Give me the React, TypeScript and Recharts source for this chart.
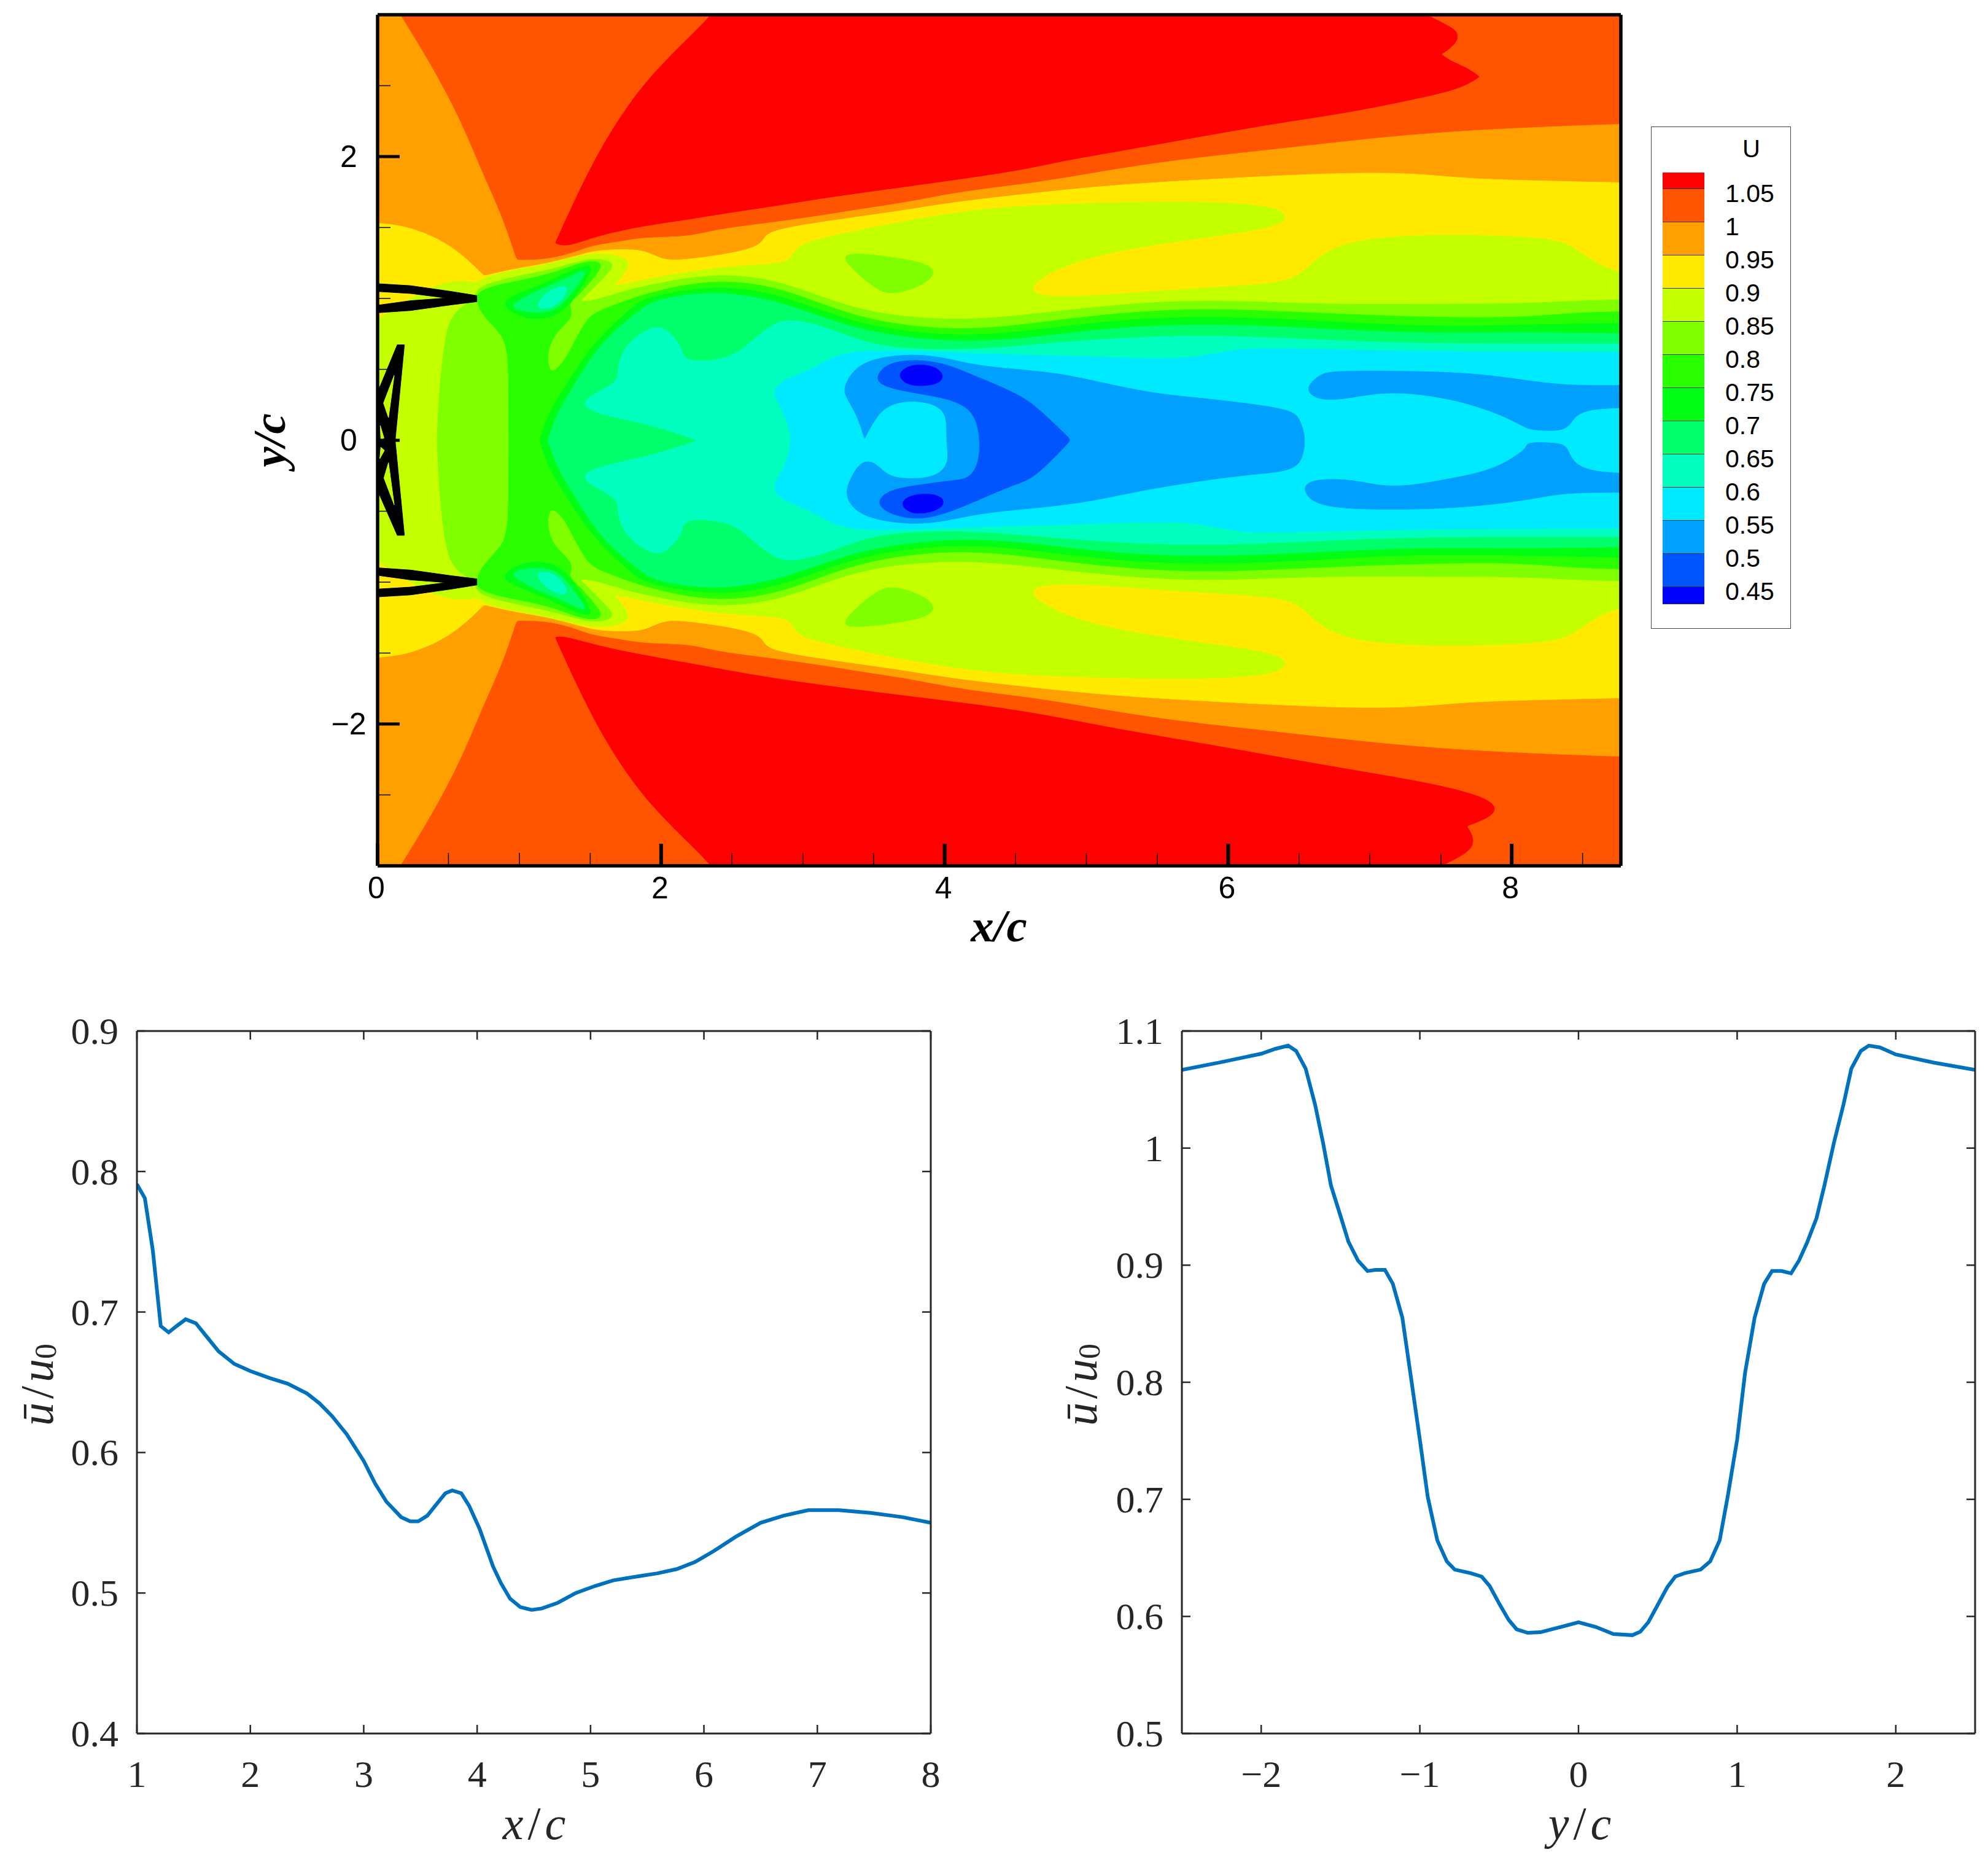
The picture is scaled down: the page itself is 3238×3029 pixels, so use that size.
import { Area, ComposedChart, Label, Line, LineChart, XAxis, YAxis } from 'recharts';

type Pt = [number, number];

// contour level colours, high to low (same order as the colorbar)
const bandColors = [
  '#ff0000', '#ff5500', '#ffa000', '#ffea00', '#c4ff00', '#7fff00', '#2aff00',
  '#00ff15', '#00ff6a', '#00ffbf', '#00eaff', '#00a0ff', '#0055ff', '#0000ff',
];
const legendLabels = ['1.05', '1', '0.95', '0.9', '0.85', '0.8', '0.75', '0.7', '0.65', '0.6', '0.55', '0.5', '0.45'];

const xTicksTop = [0, 0.5, 1, 1.5, 2, 2.5, 3, 3.5, 4, 4.5, 5, 5.5, 6, 6.5, 7, 7.5, 8, 8.5];
const yTicksTop = [-2.5, -2, -1.5, -1, -0.5, 0, 0.5, 1, 1.5, 2, 2.5];

// contour outlines, in x/c, y/c. Outlines run a little past
// the plot edge where a contour leaves it; the axes clip them.
const domainRect: Pt[] = [[0, 3], [8.77, 3], [8.77, -3], [0, -3]];

const redTop: Pt[] = [
  [2.5, 3.2], [2.365, 3], [2.137, 2.784], [1.893, 2.532], [1.711, 2.281], [1.559, 2.029], [1.422, 1.757], [1.315, 1.526],
  [1.254, 1.39], [1.254, 1.39], [1.315, 1.369], [1.406, 1.39], [1.589, 1.453], [1.893, 1.516], [2.198, 1.558], [2.502, 1.61],
  [2.807, 1.652], [3.111, 1.704], [3.415, 1.746], [3.72, 1.788], [4.024, 1.83], [4.536, 1.904], [4.81, 1.966],
  [5.17, 2.029], [5.528, 2.092], [5.995, 2.176], [6.426, 2.249], [6.857, 2.312], [7.323, 2.407], [7.647, 2.48],
  [7.773, 2.564], [7.773, 2.564], [7.683, 2.627], [7.575, 2.669], [7.503, 2.721], [7.503, 2.721], [7.611, 2.795], [7.629, 2.878], [7.539, 2.931],
  [7.0, 3.2],
];
const redBottom: Pt[] = [
  [2.5, -3.2], [2.365, -3], [2.137, -2.784], [1.893, -2.532], [1.711, -2.281], [1.559, -2.029], [1.422, -1.757], [1.315, -1.526],
  [1.254, -1.39], [1.254, -1.39], [1.315, -1.38], [1.55, -1.45], [1.893, -1.519], [2.35, -1.6], [2.807, -1.685], [3.72, -1.804],
  [4.536, -1.899], [5.17, -2.03], [5.887, -2.148], [6.6, -2.279], [7.323, -2.398], [7.7, -2.481], [7.891, -2.559],
  [7.88, -2.647], [7.683, -2.719], [7.683, -2.719], [7.773, -2.873], [7.5, -3], [7.1, -3.2],
];
const u100: Pt[] = [
  [-0.15, 3.5], [0.158, 3], [0.371, 2.658], [0.584, 2.26], [0.737, 1.883], [0.874, 1.589], [0.98, 1.27], [0.98, 1.27], [1.193, 1.27],
  [1.406, 1.327], [1.498, 1.369], [1.711, 1.4], [1.893, 1.432], [2.198, 1.432], [2.38, 1.484], [2.685, 1.522],
  [3.111, 1.579], [3.415, 1.631], [3.72, 1.673], [4.024, 1.736], [4.329, 1.778], [4.536, 1.803], [4.81, 1.841],
  [5.528, 1.966], [6.246, 2.04], [6.965, 2.124], [7.683, 2.187], [8.77, 2.23], [9.3, 2.24],
];
const u095: Pt[] = [
  [-0.5, 1.54], [0, 1.537], [0.219, 1.505], [0.432, 1.421], [0.584, 1.317], [0.676, 1.233], [0.752, 1.159], [0.752, 1.159], [0.98, 1.212],
  [1.193, 1.243], [1.467, 1.317], [1.559, 1.342], [1.833, 1.348], [1.924, 1.317], [2.03, 1.264], [2.198, 1.275],
  [2.502, 1.317], [2.7, 1.369], [2.73, 1.442], [2.807, 1.484], [3.111, 1.537], [3.72, 1.62], [4.024, 1.673],
  [4.536, 1.732], [5.17, 1.799], [5.887, 1.841], [6.785, 1.887], [7.323, 1.883], [7.683, 1.841], [8.33, 1.826],
  [8.77, 1.815], [9.3, 1.81],
];
const u090: Pt[] = [
  [-0.5, 0.7], [0, 0.84], [0.1, 0.92], [0.23, 1.0], [0.449, 1.114], [0.623, 1.128], [0.695, 1.1], [0.767, 1.157], [0.955, 1.2],
  [1.143, 1.23], [1.316, 1.273], [1.461, 1.309], [1.576, 1.316], [1.663, 1.309], [1.764, 1.273], [1.772, 1.237],
  [1.737, 1.172], [1.678, 1.1], [1.665, 1.086], [1.772, 1.107], [2.015, 1.159], [2.289, 1.201], [2.563, 1.233],
  [2.898, 1.243], [2.928, 1.317], [2.989, 1.39], [3.263, 1.453], [3.72, 1.547], [4.176, 1.62], [4.536, 1.652],
  [5.17, 1.677], [5.887, 1.683], [6.3, 1.652], [6.42, 1.589], [6.38, 1.526], [6.17, 1.474], [5.528, 1.39],
  [5.0, 1.296], [4.666, 1.149], [4.594, 1.055], [4.7, 1.013], [5.0, 1.013], [5.528, 1.055], [6.06, 1.086],
  [6.46, 1.117], [6.57, 1.233], [6.75, 1.38], [7.145, 1.442], [7.683, 1.449], [8.29, 1.428], [8.44, 1.358],
  [8.58, 1.254], [8.77, 1.17], [9.3, 1.05],
];
const u085: Pt[] = [
  [0.42, 0], [0.435, 0.363], [0.478, 0.753], [0.536, 0.912], [0.695, 1.0], [0.695, 1.07], [0.81, 1.114],
  [0.955, 1.15], [1.143, 1.186], [1.316, 1.23], [1.461, 1.273], [1.576, 1.28], [1.663, 1.251], [1.649, 1.2],
  [1.533, 1.085], [1.447, 0.998], [1.417, 0.977], [1.533, 0.984], [1.75, 1.056], [1.893, 1.088], [2.39, 1.187],
  [2.888, 1.121], [3.386, 0.897], [4.082, 0.836], [4.63, 0.889], [5.127, 0.947], [5.794, 0.997], [6.6, 0.956],
  [7.323, 0.96], [8.05, 0.96], [8.41, 0.981], [8.77, 0.992], [9.3, 0.995],
];
const u085Island: Pt[] = [
  [3.26, 1.31], [3.415, 1.32], [3.842, 1.263], [3.95, 1.191], [3.862, 1.097], [3.629, 1.02], [3.517, 1.065],
  [3.365, 1.191],
];
const u080: Pt[] = [
  [0.926, 0], [0.926, 0.363], [0.919, 0.652], [0.868, 0.753], [0.796, 0.825], [0.723, 0.912], [0.702, 0.984],
  [0.695, 1.04], [0.825, 1.092], [1.027, 1.129], [1.243, 1.179], [1.389, 1.237], [1.504, 1.266], [1.576, 1.251],
  [1.576, 1.208], [1.475, 1.085], [1.389, 0.998], [1.345, 0.955], [1.381, 0.883], [1.316, 0.81], [1.23, 0.724],
  [1.193, 0.594], [1.215, 0.471], [1.272, 0.507], [1.33, 0.579], [1.388, 0.695], [1.46, 0.825], [1.518, 0.897],
  [1.677, 0.955], [1.894, 1.038], [2.39, 1.146], [2.888, 1.071], [3.386, 0.847], [4.082, 0.764], [4.63, 0.823],
  [5.127, 0.889], [5.794, 0.935], [6.6, 0.897], [7.323, 0.868], [8.05, 0.86], [8.41, 0.897], [8.77, 0.908], [9.3, 0.91],
];
const u075Lobe: Pt[] = [
  [0.85, 0.97], [1.03, 1.05], [1.165, 1.1], [1.31, 1.17], [1.47, 1.24], [1.52, 1.22], [1.45, 1.1], [1.36, 0.96],
  [1.25, 0.87], [1.1, 0.85], [0.98, 0.88],
];
const u075: Pt[] = [
  [1.143, 0], [1.215, 0.218], [1.316, 0.363], [1.446, 0.579], [1.605, 0.767], [1.82, 0.96], [1.893, 1.005],
  [2.39, 1.105], [2.888, 1.02], [3.386, 0.805], [4.082, 0.723], [4.63, 0.773], [5.127, 0.84], [5.794, 0.88],
  [6.6, 0.845], [7.323, 0.8], [8.05, 0.81], [8.41, 0.82], [8.77, 0.824], [9.3, 0.83],
];
const u070Lobe: Pt[] = [
  [0.926, 0.941], [1.04, 1.013], [1.165, 1.071], [1.31, 1.129], [1.446, 1.2], [1.475, 1.186], [1.403, 1.085],
  [1.316, 0.97], [1.243, 0.912], [1.127, 0.897], [1.012, 0.912],
];
const u070: Pt[] = [
  [1.2, 0], [1.27, 0.2], [1.37, 0.36], [1.5, 0.58], [1.66, 0.77], [1.87, 0.93], [1.95, 0.99], [2.39, 1.063],
  [2.888, 0.972], [3.386, 0.764], [4.082, 0.682], [4.63, 0.723], [5.127, 0.789], [5.794, 0.824], [6.6, 0.79],
  [7.323, 0.752], [8.05, 0.761], [8.41, 0.755], [8.77, 0.752], [9.3, 0.75],
];
const u065Lobe: Pt[] = [[1.1, 0.935], [1.2, 1.06], [1.36, 1.11], [1.31, 0.985], [1.2, 0.92]];
const u065: Pt[] = [
  [2.259, 0], [1.893, 0.122], [1.589, 0.174], [1.376, 0.264], [1.711, 0.405], [1.686, 0.499], [1.741, 0.667],
  [1.893, 0.781], [1.993, 0.806], [2.067, 0.756], [2.154, 0.648], [2.154, 0.557], [2.366, 0.557], [2.54, 0.607],
  [2.664, 0.723], [2.813, 0.839], [2.938, 0.852], [3.136, 0.806], [3.385, 0.706], [3.634, 0.648], [4.131, 0.632],
  [4.63, 0.673], [5.127, 0.715], [5.794, 0.745], [6.6, 0.71], [7.323, 0.68], [8.05, 0.68], [8.77, 0.68], [9.3, 0.68],
];
const u060: Pt[] = [
  [2.913, 0], [2.9, 0.126], [2.819, 0.275], [2.789, 0.342], [2.851, 0.425], [3.062, 0.491], [3.262, 0.632],
  [3.685, 0.632], [4.131, 0.615], [4.45, 0.604], [4.99, 0.593], [5.7, 0.562], [6.0, 0.635], [6.25, 0.656],
  [6.965, 0.629], [8.77, 0.62], [9.3, 0.62],
];
const u055Body: Pt[] = [
  [3.286, 0.375], [3.361, 0.507], [3.51, 0.582], [3.783, 0.61], [4.007, 0.582], [4.256, 0.516], [4.778, 0.483],
  [5.127, 0.4], [5.5, 0.325], [5.794, 0.3], [6.437, 0.225], [6.505, 0.16], [6.545, 0.016], [6.535, -0.07],
  [6.496, -0.215], [6.18, -0.237], [5.79, -0.287], [5.376, -0.355], [5.0, -0.438], [4.63, -0.479], [4.256, -0.512],
  [4.007, -0.57], [3.783, -0.595], [3.51, -0.562], [3.361, -0.496], [3.286, -0.371], [3.361, -0.222], [3.41, -0.156],
  [3.484, -0.143], [3.559, -0.206], [3.634, -0.272], [3.883, -0.272], [3.983, -0.222], [4.033, -0.139], [4.01, 0],
  [4.02, 0.159], [3.957, 0.25], [3.784, 0.284], [3.61, 0.259], [3.51, 0.159], [3.435, 0.01], [3.435, 0.01], [3.385, 0.176],
  [3.3, 0.308],
];
const u055WakeTop: Pt[] = [
  [6.565, 0.391], [6.652, 0.471], [6.77, 0.492], [7.551, 0.485], [7.942, 0.449], [8.333, 0.384], [8.77, 0.387],
  [9.3, 0.39], [9.3, 0.233], [8.77, 0.233], [8.528, 0.218], [8.43, 0.16], [8.392, 0.059], [8.138, 0.074], [8.099, 0.088], [7.942, 0.175],
  [7.649, 0.276], [7.356, 0.326], [7.16, 0.337], [7.004, 0.326], [6.77, 0.283], [6.633, 0.29], [6.565, 0.334],
];
const u055WakeBottom: Pt[] = [
  [6.535, -0.273], [6.867, -0.273], [7.063, -0.324], [7.278, -0.324], [7.551, -0.273], [7.747, -0.237],
  [7.942, -0.172], [8.108, -0.056], [8.099, -0.027], [8.157, -0.013], [8.333, -0.02], [8.392, -0.042],
  [8.421, -0.143], [8.528, -0.215], [8.77, -0.237], [9.3, -0.24], [9.3, -0.367], [8.77, -0.367], [8.372, -0.367], [8.138, -0.417],
  [7.747, -0.468], [7.258, -0.492], [6.672, -0.482], [6.535, -0.388],
];
const u050Core: Pt[] = [
  [3.51, 0.441], [3.584, 0.541], [3.783, 0.574], [4.007, 0.541], [4.18, 0.466], [4.53, 0.325], [4.68, 0.209],
  [4.891, 0.002], [4.891, 0.002], [4.63, -0.272], [4.505, -0.305], [4.256, -0.413], [3.983, -0.529], [3.784, -0.562], [3.585, -0.512],
  [3.515, -0.43], [3.61, -0.347], [3.833, -0.313], [4.082, -0.28], [4.169, -0.272], [4.256, -0.156], [4.244, 0.143],
  [4.132, 0.259], [3.958, 0.308], [3.734, 0.342], [3.559, 0.383],
];
const u045Top: Pt[] = [
  [3.67, 0.46], [3.72, 0.515], [3.821, 0.54], [3.95, 0.515], [4.0, 0.449], [3.95, 0.392], [3.808, 0.38], [3.72, 0.4],
];
const u045Bottom: Pt[] = [
  [3.685, -0.446], [3.745, -0.39], [3.883, -0.372], [3.995, -0.4], [3.995, -0.475], [3.858, -0.52], [3.745, -0.512],
];

// black airfoil outlines
const foilUpper: Pt[] = [
  [0, 1.104], [0.233, 1.09], [0.52, 1.049], [0.7, 1.02], [0.7, 0.977], [0.52, 0.955], [0.233, 0.915], [0.016, 0.9],
  [0, 0.9], [0, 0.952], [0.233, 0.984], [0.486, 1.003], [0.233, 1.035], [0, 1.049],
];
const foilCentre: Pt[] = [
  [0.139, 0.673], [0.189, 0.673], [0.124, 0], [0.189, -0.67], [0.139, -0.67], [0.009, -0.374], [0, -0.374], [0, 0.374], [0.016, 0.377],
];
const foilGaps: Pt[][] = [
  [[0.117, 0.457], [0.042, 0.262], [0.077, 0.16]],
  [[0.117, -0.454], [0.045, -0.266], [0.077, -0.158]],
  [[0.019, 0.103], [0.045, 0.016], [0.023, 0.001]],
  [[0.023, -0.049], [0.048, -0.071], [0.016, -0.129]],
];

// centreline and cross-stream profiles
const centrelineX = [
  1, 1.07, 1.14, 1.21, 1.28, 1.35, 1.43, 1.52, 1.61, 1.72, 1.86, 2, 2.17, 2.33, 2.5, 2.61, 2.72, 2.85, 3, 3.1, 3.2,
  3.33, 3.41, 3.48, 3.56, 3.66, 3.72, 3.78, 3.86, 3.93, 4.02, 4.14, 4.21, 4.29, 4.38, 4.48, 4.57, 4.71, 4.87, 5.04,
  5.2, 5.43, 5.59, 5.76, 5.92, 6.09, 6.28, 6.5, 6.7, 6.92, 7.19, 7.47, 7.75, 8,
];
const centrelineU = [
  0.791, 0.781, 0.744, 0.69, 0.6855, 0.69, 0.6948, 0.692, 0.683, 0.672, 0.663, 0.658, 0.653, 0.649, 0.642, 0.635,
  0.626, 0.613, 0.594, 0.578, 0.565, 0.554, 0.551, 0.551, 0.555, 0.565, 0.571, 0.573, 0.571, 0.562, 0.546, 0.519,
  0.507, 0.496, 0.49, 0.488, 0.489, 0.493, 0.5, 0.505, 0.509, 0.512, 0.514, 0.517, 0.522, 0.53, 0.54, 0.55, 0.555,
  0.559, 0.559, 0.557, 0.554, 0.55,
];
const profileY = [
  -2.5, -2.26, -2, -1.91, -1.83, -1.78, -1.72, -1.66, -1.61, -1.56, -1.5, -1.45, -1.39, -1.33, -1.28, -1.22, -1.17,
  -1.11, -1.06, -1, -0.95, -0.89, -0.83, -0.78, -0.68, -0.61, -0.56, -0.5, -0.44, -0.39, -0.32, -0.24, -0.14, 0, 0.11,
  0.22, 0.34, 0.39, 0.44, 0.5, 0.56, 0.61, 0.67, 0.77, 0.83, 0.89, 0.94, 1, 1.05, 1.11, 1.17, 1.22, 1.28, 1.34, 1.39,
  1.44, 1.5, 1.55, 1.61, 1.67, 1.72, 1.78, 1.83, 1.9, 2, 2.24, 2.5,
];
const profileU = [
  1.0668, 1.0732, 1.0806, 1.0848, 1.0875, 1.083, 1.068, 1.037, 1.0045, 0.968, 0.942, 0.92, 0.904, 0.895, 0.896, 0.896,
  0.884, 0.855, 0.808, 0.751, 0.702, 0.665, 0.647, 0.64, 0.637, 0.634, 0.626, 0.611, 0.597, 0.589, 0.586, 0.5865, 0.59,
  0.595, 0.591, 0.585, 0.584, 0.587, 0.595, 0.61, 0.625, 0.634, 0.637, 0.64, 0.647, 0.665, 0.702, 0.751, 0.808, 0.855,
  0.884, 0.895, 0.895, 0.893, 0.904, 0.919, 0.94, 0.968, 1.0045, 1.037, 1.068, 1.083, 1.0875, 1.086, 1.08, 1.073, 1.0668,
];

const closed = (pts: Pt[]) => [...pts, pts[0]].map(([x, y]) => ({ x, y }));
const mirrored = (pts: Pt[]): Pt[] => pts.map(([x, y]) => [x, -y] as Pt);
// outline given for the upper half only, walked back along its mirror image
const bothHalves = (pts: Pt[]): Pt[] => [...pts, ...mirrored(pts).reverse()];

const [red, c100, c095, c090, c085, c080, c075, c070, c065, c060, c055, c050, c045, c040] = bandColors;

type Layer = { color: string; pts: Pt[]; sharp?: boolean };

const layers: Layer[] = [
  { color: c100, pts: domainRect, sharp: true },
  { color: red, pts: redTop },
  { color: red, pts: redBottom },
  { color: c095, pts: bothHalves(u100) },
  { color: c090, pts: bothHalves(u095) },
  { color: c085, pts: bothHalves(u090) },
  { color: c080, pts: bothHalves(u085) },
  { color: c080, pts: u085Island },
  { color: c080, pts: mirrored(u085Island) },
  { color: c075, pts: bothHalves(u080) },
  { color: c070, pts: u075Lobe },
  { color: c070, pts: mirrored(u075Lobe) },
  { color: c070, pts: bothHalves(u075) },
  { color: c065, pts: u070Lobe },
  { color: c065, pts: mirrored(u070Lobe) },
  { color: c065, pts: bothHalves(u070) },
  { color: c060, pts: u065Lobe },
  { color: c060, pts: mirrored(u065Lobe) },
  { color: c060, pts: bothHalves(u065) },
  { color: c055, pts: bothHalves(u060) },
  { color: c050, pts: u055Body },
  { color: c050, pts: u055WakeTop },
  { color: c050, pts: u055WakeBottom },
  { color: c045, pts: u050Core },
  { color: c040, pts: u045Top },
  { color: c040, pts: u045Bottom },
  { color: '#000000', pts: foilUpper, sharp: true },
  { color: '#000000', pts: mirrored(foilUpper), sharp: true },
  { color: '#000000', pts: foilCentre, sharp: true },
  ...foilGaps.map((pts) => ({ color: c085, pts, sharp: true })),
];

const SANS = '"Liberation Sans", Arial, sans-serif';
const SERIF = '"Liberation Serif", "Times New Roman", serif';
const INK = '#262626';

const topXTick = ({ x, y, payload }: any) => {
  const major = payload.value % 2 === 0;
  return (
    <g>
      <line x1={x} x2={x} y1={y} y2={y - (major ? 36 : 21)} stroke="#000" strokeWidth={major ? 6 : 1.5} />
      {major && (
        <text x={x - 2} y={y + 36} textAnchor="middle" dominantBaseline="central" fontFamily={SANS} fontSize={50} fill="#000">
          {payload.value}
        </text>
      )}
    </g>
  );
};

const topYTick = ({ x, y, payload }: any) => {
  const major = payload.value % 2 === 0;
  return (
    <g>
      <line x1={x} x2={x + (major ? 36 : 21)} y1={y} y2={y} stroke="#000" strokeWidth={major ? 5 : 1.5} />
      {major && (
        <text x={568} y={y} textAnchor="middle" dominantBaseline="central" fontFamily={SANS} fontSize={50} fill="#000">
          {String(payload.value).replace('-', '\u2212')}
        </text>
      )}
    </g>
  );
};

const matlabTick = (side: 'bottom' | 'top' | 'left' | 'right') => ({ x, y, payload }: any) => {
  const label = String(payload.value).replace('-', '\u2212');
  const len = 14;
  const dx = side === 'left' ? len : side === 'right' ? -len : 0;
  const dy = side === 'bottom' ? -len : side === 'top' ? len : 0;
  return (
    <g>
      <line x1={x} y1={y} x2={x + dx} y2={y + dy} stroke={INK} strokeWidth={2.5} />
      {side === 'bottom' && (
        <text x={x} y={y + 66} textAnchor="middle" dominantBaseline="central" fontFamily={SERIF} fontSize={62} fill={INK}>
          {label}
        </text>
      )}
      {side === 'left' && (
        <text x={x - 30} y={y} textAnchor="end" dominantBaseline="central" fontFamily={SERIF} fontSize={62} fill={INK}>
          {label}
        </text>
      )}
    </g>
  );
};

function ColorBar() {
  const rows = bandColors.map((color, i) => {
    const top = i === 0 ? 281 : 308 + (i - 1) * 54;
    const bottom = i === bandColors.length - 1 ? 984 : 308 + i * 54;
    return { color, top, bottom };
  });
  return (
    <div style={{ position: 'absolute', left: 0, top: 0, fontFamily: SANS, color: '#000' }}>
      <div style={{ position: 'absolute', left: 2689, top: 206, width: 226, height: 816, border: '1.5px solid #444', background: '#fff' }} />
      <div style={{ position: 'absolute', left: 2838, top: 218, fontSize: 40, lineHeight: '48px' }}>U</div>
      {rows.map((r) => (
        <div
          key={r.color}
          style={{
            position: 'absolute', left: 2708, top: r.top, width: 68, height: r.bottom - r.top,
            background: r.color, borderBottom: '1.5px solid #333', boxSizing: 'border-box',
          }}
        />
      ))}
      {legendLabels.map((text, i) => (
        <div key={text} style={{ position: 'absolute', left: 2810, top: 293 + i * 54, fontSize: 41, lineHeight: '44px' }}>
          {text}
        </div>
      ))}
    </div>
  );
}

function ContourPanel() {
  const frame = { stroke: '#000', strokeWidth: 5.5 };
  return (
    <div style={{ position: 'absolute', left: 0, top: 0 }}>
      <ComposedChart width={2660} height={1560} margin={{ top: 23, right: 19, bottom: 0, left: 0 }}>
        {layers.map((layer, i) => (
          <Area
            key={i}
            data={layer.sharp ? closed(layer.pts) : layer.pts.map(([x, y]) => ({ x, y }))}
            dataKey="y"
            type={layer.sharp ? 'linear' : 'basisClosed'}
            baseValue={0}
            fill={layer.color}
            fillOpacity={1}
            stroke={layer.color}
            strokeWidth={1}
            dot={false}
            activeDot={false}
            isAnimationActive={false}
          />
        ))}
        <XAxis
          dataKey="x"
          type="number"
          domain={[0, 8.77]}
          allowDataOverflow
          ticks={xTicksTop}
          interval={0}
          height={150}
          tickSize={0}
          tickMargin={0}
          tickLine={false}
          tick={topXTick}
          axisLine={frame}
        >
          <Label
            content={() => (
              <text x={1627} y={1507} textAnchor="middle" dominantBaseline="central" fontFamily={SERIF} fontStyle="italic" fontWeight="bold" fontSize={75} fill="#000">
                x/c
              </text>
            )}
          />
        </XAxis>
        <XAxis xAxisId="frame" dataKey="x" orientation="top" type="number" domain={[0, 8.77]} allowDataOverflow height={1} tick={false} tickLine={false} axisLine={frame} />
        <YAxis
          type="number"
          domain={[-3, 3]}
          allowDataOverflow
          ticks={yTicksTop}
          interval={0}
          width={615}
          tickSize={0}
          tickMargin={0}
          tickLine={false}
          tick={topYTick}
          axisLine={frame}
        >
          <Label
            content={() => (
              <text x={438} y={717} transform="rotate(-90 438 717)" textAnchor="middle" dominantBaseline="central" fontFamily={SERIF} fontStyle="italic" fontWeight="bold" fontSize={75} fill="#000">
                y/c
              </text>
            )}
          />
        </YAxis>
        <YAxis yAxisId="frame" orientation="right" type="number" domain={[-3, 3]} allowDataOverflow width={1} tick={false} tickLine={false} axisLine={frame} />
      </ComposedChart>
    </div>
  );
}

type ProfileProps = {
  left: number;
  width: number;
  yAxisWidth: number;
  xs: number[];
  us: number[];
  xDomain: [number, number];
  yDomain: [number, number];
  xTicks: number[];
  yTicks: number[];
  xName: string;
  xLabelAt: number;
  yLabelAt: number;
};

function ProfilePanel({ left, width, yAxisWidth, xs, us, xDomain, yDomain, xTicks, yTicks, xName, xLabelAt, yLabelAt }: ProfileProps) {
  const data = xs.map((x, i) => ({ x, u: us[i] }));
  const axisLine = { stroke: INK, strokeWidth: 3 };
  return (
    <div style={{ position: 'absolute', left, top: 1600 }}>
      <LineChart width={width} height={1429} data={data} margin={{ top: 78, right: 20, bottom: 0, left: 0 }}>
        <XAxis dataKey="x" type="number" domain={xDomain} allowDataOverflow ticks={xTicks} interval={0} height={206} tickSize={0} tickMargin={0} tickLine={false} tick={matlabTick('bottom')} axisLine={axisLine}>
          <Label
            content={() => (
              <text x={xLabelAt} y={1369} textAnchor="middle" dominantBaseline="central" fontFamily={SERIF} fontSize={76} fill={INK}>
                <tspan fontStyle="italic">{xName}</tspan>
                <tspan dx={7}>/</tspan>
                <tspan dx={7} fontStyle="italic">c</tspan>
              </text>
            )}
          />
        </XAxis>
        <XAxis xAxisId="top" dataKey="x" orientation="top" type="number" domain={xDomain} allowDataOverflow ticks={xTicks} interval={0} height={1} tickSize={0} tickMargin={0} tickLine={false} tick={matlabTick('top')} axisLine={axisLine} />
        <YAxis type="number" domain={yDomain} allowDataOverflow ticks={yTicks} interval={0} width={yAxisWidth} tickSize={0} tickMargin={0} tickLine={false} tick={matlabTick('left')} axisLine={axisLine}>
          <Label
            content={() => (
              <text x={yLabelAt} y={655} transform={`rotate(-90 ${yLabelAt} 655)`} textAnchor="middle" dominantBaseline="central" fontFamily={SERIF} fontSize={76} fill={INK}>
                <tspan fontStyle="italic">{'\u016b'}</tspan>
                <tspan dx={6}>/</tspan>
                <tspan dx={6} fontStyle="italic">u</tspan>
                <tspan dy={14} fontSize={50}>0</tspan>
              </text>
            )}
          />
        </YAxis>
        <YAxis yAxisId="right" orientation="right" type="number" domain={yDomain} allowDataOverflow ticks={yTicks} interval={0} width={1} tickSize={0} tickMargin={0} tickLine={false} tick={matlabTick('right')} axisLine={axisLine} />
        <Line dataKey="u" type="linear" stroke="#0072BD" strokeWidth={6} dot={false} activeDot={false} isAnimationActive={false} />
      </LineChart>
    </div>
  );
}

export default function App() {
  return (
    <div style={{ position: 'absolute', left: 0, top: 0, width: 3238, height: 3029 }}>
      <ContourPanel />
      <ColorBar />
      <ProfilePanel
        left={0}
        width={1537}
        yAxisWidth={223}
        xs={centrelineX}
        us={centrelineU}
        xDomain={[1, 8]}
        yDomain={[0.4, 0.9]}
        xTicks={[1, 2, 3, 4, 5, 6, 7, 8]}
        yTicks={[0.4, 0.5, 0.6, 0.7, 0.8, 0.9]}
        xName="x"
        xLabelAt={870}
        yLabelAt={60}
      />
      <ProfilePanel
        left={1640}
        width={1598}
        yAxisWidth={285}
        xs={profileY}
        us={profileU}
        xDomain={[-2.5, 2.5]}
        yDomain={[0.5, 1.1]}
        xTicks={[-2, -1, 0, 1, 2]}
        yTicks={[0.5, 0.6, 0.7, 0.8, 0.9, 1, 1.1]}
        xName="y"
        xLabelAt={933}
        yLabelAt={120}
      />
    </div>
  );
}
